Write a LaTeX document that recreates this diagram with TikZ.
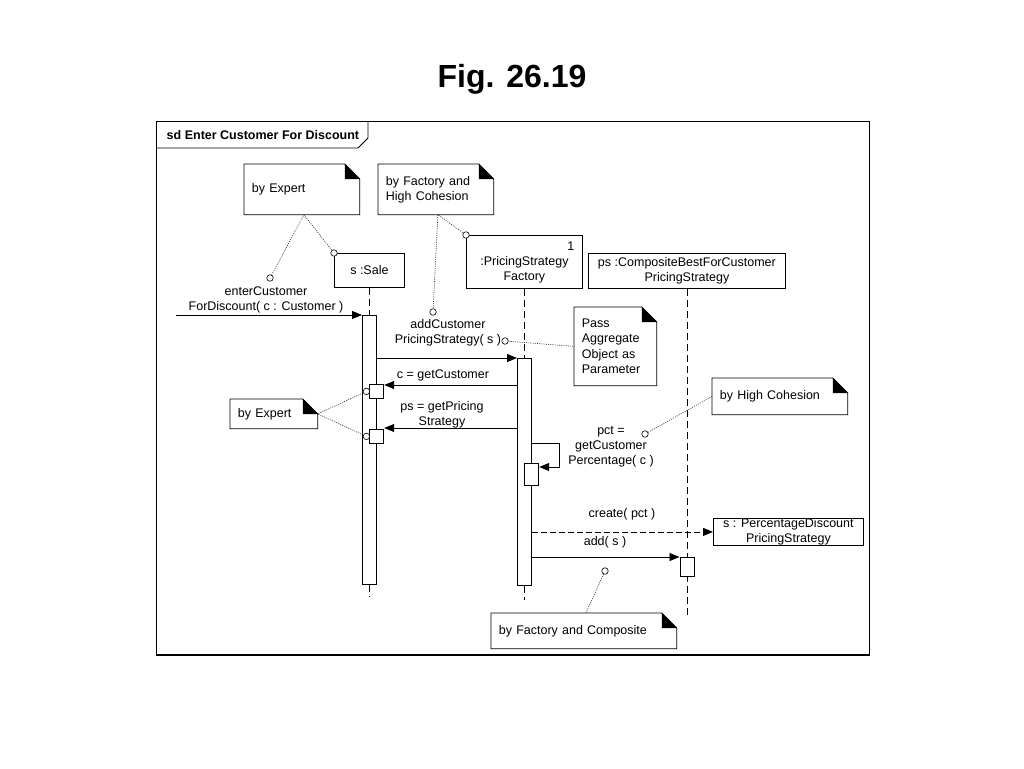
\documentclass[tikz,border=0pt]{standalone}
\usepackage{fontspec}
\setmainfont{Liberation Sans}
\usetikzlibrary{arrows.meta,positioning,calc}

% note with folded corner
\newcommand{\dogear}[1]{%
  \draw (#1.north west) -- ([xshift=-15pt]#1.north east) -- ([yshift=-15pt]#1.north east)
    -- (#1.south east) -- (#1.south west) -- cycle;
  \fill ([xshift=-15pt]#1.north east) -- ([xshift=-15pt,yshift=-15pt]#1.north east)
    -- ([yshift=-15pt]#1.north east) -- cycle;
}

\begin{document}
\begin{tikzpicture}[x=1pt,y=-1pt,line width=0.8pt,
  font=\fontsize{12.5}{15}\selectfont,
  obj/.style={draw, fill=white, inner sep=0pt, anchor=north west, align=center},
  note/.style={inner xsep=7.5pt, inner ysep=0pt, anchor=north west, align=left},
  act/.style={draw, fill=white, inner sep=0pt, anchor=north, minimum width=14pt},
  msg/.style={-{Triangle[length=10pt,width=8pt]}},
  lifeline/.style={dash pattern=on 7pt off 4pt},
  link/.style={dash pattern=on 1pt off 1.2pt, line width=0.6pt, black!85},
  knob/.style={circle, draw, fill=white, line width=0.6pt, inner sep=0pt, minimum size=6.5pt}
]
\useasboundingbox (0,0) rectangle (1024,768);

% Title
\node[font=\fontsize{32}{36}\selectfont\bfseries, anchor=base] (title) at (512,87) {Fig. 26.19};

% Frame
\draw (156,121) rectangle (869,655);
\draw[line width=2pt] (156,655) -- (869,655);
\draw (156,148) -- (358,148) -- (368,138) -- (368,121);
\node[font=\fontsize{12.5}{15}\selectfont\bfseries, anchor=west] (frameName) at (163,135) {sd Enter Customer For Discount};

% Lifeline heads
\node[obj, minimum width=70pt, minimum height=34pt] (sale) at (334,253) {s :Sale};
\node[obj, minimum width=116pt, minimum height=53pt] (factory) at (466,235) {};
\node (factoryName) at ([yshift=-8pt]factory.center) [align=center] {:PricingStrategy\\Factory};
\node (mult) at ([xshift=-12pt,yshift=-11pt]factory.north east) {1};
\node[obj, minimum width=197pt, minimum height=35pt] (comp) at (588,253) {ps :CompositeBestForCustomer\\PricingStrategy};
\node[obj, minimum width=150pt, minimum height=27pt] (pds) at (713,518) {s : PercentageDiscount\\PricingStrategy};

% Lifelines
\draw[lifeline] (sale.south) -- (sale.south |- 0,597);
\draw[lifeline] (factory.south) -- (factory.south |- 0,600);
\draw[lifeline] (comp.south) -- (comp.south |- 0,615);

% Activations
\node[act, minimum height=269pt] (saleAct) at (sale.south |- 0,315) {};
\node[act, minimum height=227pt] (factAct) at (factory.south |- 0,358) {};
\node[act, minimum height=19pt] (compAct) at (comp.south |- 0,557) {};
\node[act, minimum height=14pt] (sub1) at (saleAct.east |- 0,384) {};
\node[act, minimum height=14pt] (sub2) at (saleAct.east |- 0,429) {};
\node[act, minimum height=22pt] (selfAct) at (factAct.east |- 0,463) {};

% Messages
\coordinate (found) at (176,315);
\draw[msg] (found) -- (saleAct.north west);
\node[align=center] (lblEnter) at (266,300) {enterCustomer\\ForDiscount( c : Customer )};

\draw[msg] (saleAct.north east |- factAct.north) -- (factAct.north west);
\node[align=center] (lblAdd) at (448,333) {addCustomer\\PricingStrategy( s )};

\coordinate (m1) at ($(sub1.north east)+(0,1)$);
\draw[msg] (factAct.west |- m1) -- (m1);
\node (lblGetC) at (443,375) {c = getCustomer};

\coordinate (m2) at ($(sub2.north east)+(0,-1)$);
\draw[msg] (factAct.west |- m2) -- (m2);
\node[align=center] (lblGetPS) at (442,415) {ps = getPricing\\Strategy};

\coordinate (selfIn) at ($(selfAct.north east)+(0,4)$);
\draw[msg] (factAct.east |- 0,443) -- ++(28,0) |- (selfIn);
\node[align=center] (lblPct) at (611,447) {pct =\\getCustomer\\Percentage( c )};

\draw[msg, dash pattern=on 6pt off 3pt] (factAct.east |- pds.west) -- (pds.west);
\node (lblCreate) at (622,514) {create( pct )};

\draw[msg] (factAct.east |- compAct.north) -- (compAct.north west);
\node (lblAddS) at (605,542) {add( s )};

% Notes
\node[note, text width=100pt, minimum height=50pt] (expTop) at (244,164) {by Expert};
\dogear{expTop}
\node[note, text width=100pt, minimum height=50pt] (fhc) at (378,164) {by Factory and\\High Cohesion};
\dogear{fhc}
\node[note, text width=67pt, minimum height=78pt, font=\fontsize{12.5}{15.5}\selectfont] (pass) at (574,307) {Pass\\Aggregate\\Object as\\Parameter};
\dogear{pass}
\node[note, text width=72pt, minimum height=29pt] (expLeft) at (230,399) {by Expert};
\dogear{expLeft}
\node[note, text width=120pt, minimum height=36pt] (hc) at (712,378) {by High Cohesion};
\dogear{hc}
\node[note, text width=170pt, minimum height=35pt] (fc) at (491,613) {by Factory and Composite};
\dogear{fc}

% Note links
\node[knob] (kEnter) at (270,278) {};
\node[knob] (kSale) at (sale.north west) {};
\node[knob] (kAdd) at (433,312) {};
\node[knob] (kFact) at (factory.north west) {};
\node[knob] (kPass) at (505,341) {};
\node[knob] (kGetC) at ([xshift=-3pt]sub1.west) {};
\node[knob] (kGetPS) at ([xshift=-3pt]sub2.west) {};
\node[knob] (kPct) at (645,434) {};
\node[knob] (kAddS) at (605,571) {};

\draw[link] (kEnter) -- ([xshift=2pt]expTop.south) -- (kSale);
\draw[link] (kAdd) -- ([xshift=2pt]fhc.south) -- (kFact);
\draw[link] (kPass) -- (pass.west);
\draw[link] (kGetC) -- (expLeft.east) -- (kGetPS);
\draw[link] (kPct) -- (hc.west);
\draw[link] (kAddS) -- ([xshift=2pt]fc.north);
\end{tikzpicture}
\end{document}
